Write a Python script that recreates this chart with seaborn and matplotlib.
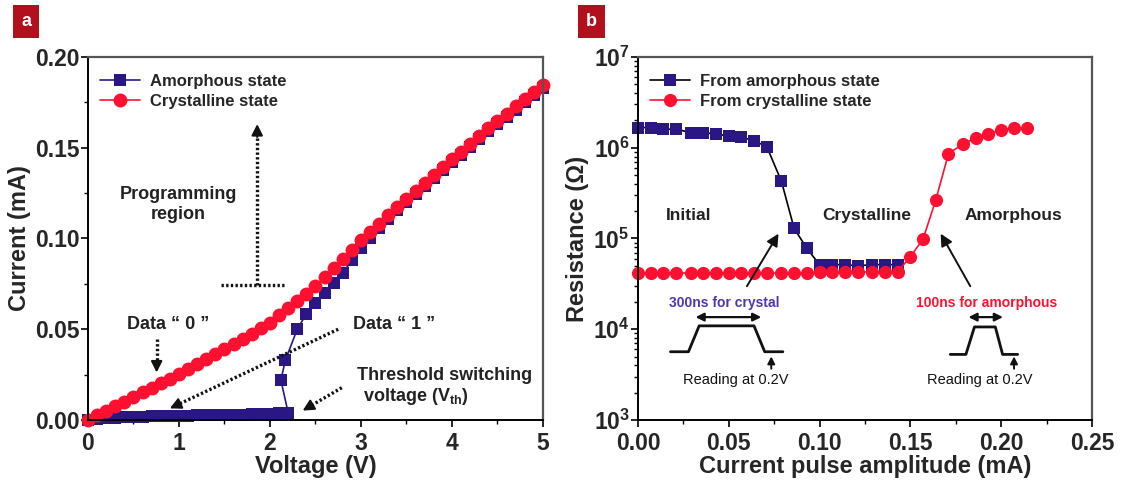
import numpy as np
import pandas as pd
import seaborn as sns
import matplotlib
matplotlib.use('Agg')
import matplotlib.pyplot as plt
from matplotlib.ticker import MultipleLocator, LogLocator, NullFormatter

# panel a: I-V curves
volt_cryst = [0.0, 0.1, 0.2, 0.3, 0.4, 0.5, 0.6, 0.7, 0.8, 0.9,
              1.0, 1.1, 1.2, 1.3, 1.4, 1.5, 1.6, 1.7, 1.8, 1.9,
              2.0, 2.1, 2.2, 2.3, 2.4, 2.5, 2.6, 2.7, 2.8, 2.9,
              3.0, 3.1, 3.2, 3.3, 3.4, 3.5, 3.6, 3.7, 3.8, 3.9,
              4.0, 4.1, 4.2, 4.3, 4.4, 4.5, 4.6, 4.7, 4.8, 4.9, 5.0]
curr_cryst = [0.0, 0.0025, 0.005, 0.0075, 0.0100, 0.0127, 0.0152, 0.0177, 0.0202, 0.0228,
              0.0255, 0.0281, 0.0307, 0.0334, 0.0361, 0.0390, 0.0418, 0.0447, 0.0476, 0.0506,
              0.0536, 0.0576, 0.0616, 0.0656, 0.0696, 0.0736, 0.0787, 0.0838, 0.0888, 0.0939,
              0.0990, 0.1036, 0.1082, 0.1128, 0.1174, 0.1220, 0.1263, 0.1306, 0.1350, 0.1393,
              0.1436, 0.1478, 0.1520, 0.1563, 0.1606, 0.1648, 0.1688, 0.1728, 0.1767, 0.1806, 0.1845]

volt_amor = [0.0, 0.1, 0.2, 0.3, 0.4, 0.5, 0.6, 0.7, 0.8, 0.9,
             1.0, 1.1, 1.2, 1.3, 1.4, 1.5, 1.6, 1.7, 1.8, 1.9,
             2.0, 2.1, 2.2, 2.12, 2.17, 2.3, 2.4, 2.5, 2.6, 2.7, 2.8, 2.9,
             3.0, 3.1, 3.2, 3.3, 3.4, 3.5, 3.6, 3.7, 3.8, 3.9,
             4.0, 4.1, 4.2, 4.3, 4.4, 4.5, 4.6, 4.7, 4.8, 4.9, 5.0]
curr_amor = [0.0, 0.0006, 0.0010, 0.0013, 0.0015, 0.0017, 0.0019, 0.0020, 0.0021, 0.0022,
             0.0023, 0.0024, 0.0025, 0.0026, 0.0027, 0.0028, 0.0029, 0.0030, 0.0031, 0.0033,
             0.0035, 0.0037, 0.0040, 0.022, 0.033, 0.050, 0.0585, 0.0645, 0.070, 0.0755, 0.081, 0.088,
             0.0945, 0.1005, 0.106, 0.111, 0.1155, 0.120, 0.1245, 0.129, 0.1335, 0.1378,
             0.142, 0.1462, 0.1505, 0.1548, 0.159, 0.163, 0.167, 0.171, 0.175, 0.179, 0.1827]

# panel b: resistance vs pulse amplitude
pulse_amor = [0.0, 0.007, 0.014, 0.021, 0.029, 0.036, 0.043, 0.050, 0.057, 0.064,
              0.071, 0.079, 0.086, 0.093, 0.100, 0.107, 0.114, 0.121, 0.129, 0.136, 0.143]
res_amor = [1.67e6, 1.67e6, 1.60e6, 1.60e6, 1.47e6, 1.47e6, 1.41e6, 1.35e6, 1.30e6, 1.20e6,
            1.02e6, 4.27e5, 1.29e5, 7.8e4, 5.15e4, 5.15e4, 5.15e4, 5.0e4, 5.15e4, 5.15e4, 5.15e4]

pulse_cryst = [0.0, 0.007, 0.014, 0.021, 0.029, 0.036, 0.043, 0.050, 0.057, 0.064,
               0.071, 0.079, 0.086, 0.093, 0.100, 0.107, 0.114, 0.121, 0.129, 0.136, 0.143,
               0.150, 0.157, 0.164, 0.171, 0.179, 0.186, 0.193, 0.200, 0.207, 0.214]
res_cryst = [4.17e4, 4.17e4, 4.17e4, 4.17e4, 4.17e4, 4.17e4, 4.17e4, 4.17e4, 4.17e4, 4.17e4,
             4.17e4, 4.17e4, 4.17e4, 4.17e4, 4.25e4, 4.25e4, 4.25e4, 4.25e4, 4.3e4, 4.3e4, 4.3e4,
             6.3e4, 9.85e4, 2.65e5, 8.6e5, 1.1e6, 1.28e6, 1.41e6, 1.57e6, 1.64e6, 1.67e6]

NAVY = '#2b1784'
RED = '#ff1030'
INK = '#111111'

sns.set_theme(style='ticks')
plt.rcParams['font.family'] = ['Liberation Sans', 'DejaVu Sans']
plt.rcParams['mathtext.fontset'] = 'custom'
plt.rcParams['mathtext.rm'] = 'Liberation Sans'
plt.rcParams['mathtext.bf'] = 'Liberation Sans:bold'
plt.rcParams['mathtext.it'] = 'Liberation Sans:italic'


def style_axes(ax):
    for s in ['left', 'bottom']:
        ax.spines[s].set_color('black')
        ax.spines[s].set_linewidth(1.4)
    for s in ['top', 'right']:
        ax.spines[s].set_visible(True)
        ax.spines[s].set_color('#555555')
        ax.spines[s].set_linewidth(1.6)
    ax.tick_params(which='major', direction='out', length=5, width=1.2,
                   labelsize=16.5, pad=1, color='black')
    ax.tick_params(axis='x', which='major', pad=3.5)
    ax.tick_params(which='minor', direction='out', length=3, width=1.0, color='black')
    for lab in ax.get_xticklabels() + ax.get_yticklabels():
        lab.set_fontweight('bold')
    for ln in ax.get_lines():
        ln.set_clip_on(False)


def dotted_arrow(ax, start, end, frac=0.88):
    # dotted shaft, solid head
    mid = (start[0] + frac * (end[0] - start[0]), start[1] + frac * (end[1] - start[1]))
    ax.plot([start[0], mid[0]], [start[1], mid[1]], color=INK, lw=2.4,
            linestyle=(0, (0.7, 0.7)), solid_capstyle='butt')
    ax.annotate('', xy=end, xytext=mid,
                arrowprops=dict(arrowstyle='-|>,head_length=0.55,head_width=0.28',
                                lw=1.5, color=INK, shrinkA=0, shrinkB=0))


def panel_a(ax):
    df_c = pd.DataFrame({'V': volt_cryst, 'I': curr_cryst})
    df_a = pd.DataFrame({'V': volt_amor, 'I': curr_amor})
    sns.lineplot(data=df_a, x='V', y='I', ax=ax, sort=False, estimator=None,
                 color=NAVY, lw=1.2, marker='s', markersize=8.5, markeredgewidth=0,
                 markerfacecolor=NAVY, label='Amorphous state')
    sns.lineplot(data=df_c, x='V', y='I', ax=ax, sort=False, estimator=None,
                 color=RED, lw=1.2, marker='o', markersize=10, markeredgewidth=0,
                 markerfacecolor=RED, label='Crystalline state')
    ax.set_xlim(0, 5)
    ax.set_ylim(0, 0.2)
    ax.xaxis.set_major_locator(MultipleLocator(1))
    ax.xaxis.set_minor_locator(MultipleLocator(0.5))
    ax.yaxis.set_major_locator(MultipleLocator(0.05))
    ax.yaxis.set_minor_locator(MultipleLocator(0.025))
    ax.yaxis.set_major_formatter(matplotlib.ticker.FormatStrFormatter('%.2f'))
    ax.set_xlabel('Voltage (V)', fontsize=17, fontweight='bold', labelpad=0)
    ax.set_ylabel('Current (mA)', fontsize=17, fontweight='bold', labelpad=3)
    ax.legend(loc='upper left', frameon=False, prop={'weight': 'bold', 'size': 12},
              handlelength=2.4, borderaxespad=0.3, labelspacing=0.3, handletextpad=0.6,
              bbox_to_anchor=(0.0, 0.985))
    style_axes(ax)

    tkw = dict(fontsize=13, fontweight='bold', color='#222222')
    ax.text(0.99, 0.1245, 'Programming', ha='center', va='center', **tkw)
    ax.text(0.99, 0.113, 'region', ha='center', va='center', **tkw)
    dotted_arrow(ax, (1.86, 0.0745), (1.86, 0.163), frac=0.92)
    ax.plot([1.46, 2.18], [0.0745, 0.0745], color=INK, lw=2.4,
            linestyle=(0, (0.7, 0.7)))
    ax.text(0.885, 0.0527, 'Data \u201c 0 \u201d', ha='center', va='center', **tkw)
    dotted_arrow(ax, (0.755, 0.0445), (0.755, 0.0262), frac=0.7)
    ax.text(3.36, 0.0527, 'Data \u201c 1 \u201d', ha='center', va='center', **tkw)
    dotted_arrow(ax, (2.75, 0.050), (0.90, 0.0064), frac=0.94)
    ax.text(2.96, 0.0245, 'Threshold switching', ha='left', va='center', **tkw)
    ax.text(3.02, 0.0127, 'voltage (V$_{\\mathbf{th}}$)', ha='left', va='center', **tkw)
    dotted_arrow(ax, (2.79, 0.0178), (2.36, 0.0052), frac=0.75)


def panel_b(ax):
    df_a = pd.DataFrame({'I': pulse_amor, 'R': res_amor})
    df_c = pd.DataFrame({'I': pulse_cryst, 'R': res_cryst})
    sns.lineplot(data=df_a, x='I', y='R', ax=ax, sort=False, estimator=None,
                 color='black', lw=1.2, marker='s', markersize=8, markeredgewidth=0,
                 markerfacecolor=NAVY, label='From amorphous state')
    sns.lineplot(data=df_c, x='I', y='R', ax=ax, sort=False, estimator=None,
                 color=RED, lw=1.2, marker='o', markersize=9.5, markeredgewidth=0,
                 markerfacecolor=RED, label='From crystalline state')
    ax.set_yscale('log')
    ax.set_xlim(0, 0.25)
    ax.set_ylim(1e3, 1e7)
    ax.xaxis.set_major_locator(MultipleLocator(0.05))
    ax.xaxis.set_minor_locator(MultipleLocator(0.025))
    ax.xaxis.set_major_formatter(matplotlib.ticker.FormatStrFormatter('%.2f'))
    ax.yaxis.set_major_locator(LogLocator(base=10, numticks=10))
    ax.yaxis.set_minor_locator(LogLocator(base=10, subs=np.arange(2, 10), numticks=10))
    ax.yaxis.set_minor_formatter(NullFormatter())
    ax.set_xlabel('Current pulse amplitude (mA)', fontsize=17, fontweight='bold', labelpad=0)
    ax.set_ylabel('Resistance (\u03a9)', fontsize=17, fontweight='bold', labelpad=3)
    ax.legend(loc='upper left', frameon=False, prop={'weight': 'bold', 'size': 12},
              handlelength=2.4, borderaxespad=0.3, labelspacing=0.3, handletextpad=0.6,
              bbox_to_anchor=(0.0, 0.985))
    style_axes(ax)

    tkw = dict(fontsize=12.5, fontweight='bold', color='#222222', ha='center', va='center')
    ax.text(0.028, 1.77e5, 'Initial', **tkw)
    ax.text(0.126, 1.77e5, 'Crystalline', **tkw)
    ax.text(0.207, 1.77e5, 'Amorphous', **tkw)
    akw = dict(arrowstyle='-|>,head_length=0.6,head_width=0.3', lw=1.4, color=INK,
               shrinkA=0, shrinkB=0)
    ax.annotate('', xy=(0.0774, 1.13e5), xytext=(0.060, 2.98e4), arrowprops=akw)
    ax.annotate('', xy=(0.1667, 1.13e5), xytext=(0.183, 2.98e4), arrowprops=akw)
    ax.text(0.0476, 1.96e4, '300ns for crystal', fontsize=10, fontweight='bold',
            color='#4a38b0', ha='center', va='center')
    ax.text(0.192, 1.96e4, '100ns for amorphous', fontsize=10, fontweight='bold',
            color=RED, ha='center', va='center')
    dkw = dict(arrowstyle='<|-|>,head_length=0.4,head_width=0.2', lw=1.6, color=INK,
               shrinkA=0, shrinkB=0)
    ax.annotate('', xy=(0.0679, 1.36e4), xytext=(0.0317, 1.36e4), arrowprops=dkw)
    ax.annotate('', xy=(0.201, 1.36e4), xytext=(0.182, 1.36e4), arrowprops=dkw)
    ax.plot([0.0179, 0.0278, 0.0337, 0.0639, 0.0698, 0.0798],
            [5.65e3, 5.65e3, 1.09e4, 1.09e4, 5.65e3, 5.65e3], color=INK, lw=2)
    ax.plot([0.172, 0.1806, 0.1853, 0.1968, 0.2008, 0.2091],
            [5.28e3, 5.28e3, 1.06e4, 1.06e4, 5.28e3, 5.28e3], color=INK, lw=2)
    ukw = dict(arrowstyle='-|>,head_length=0.35,head_width=0.18', lw=1.4, color=INK,
               shrinkA=0, shrinkB=0)
    ax.annotate('', xy=(0.0734, 10 ** 3.70), xytext=(0.0734, 10 ** 3.565), arrowprops=ukw)
    ax.annotate('', xy=(0.2071, 10 ** 3.70), xytext=(0.2071, 10 ** 3.565), arrowprops=ukw)
    ax.text(0.054, 2.77e3, 'Reading at 0.2V', fontsize=10.5, color=INK,
            ha='center', va='center')
    ax.text(0.188, 2.77e3, 'Reading at 0.2V', fontsize=10.5, color=INK,
            ha='center', va='center')


fig = plt.figure(figsize=(11.22, 4.86), dpi=100)
ax1 = fig.add_axes([0.0784, 0.1358, 0.4055, 0.747])
ax2 = fig.add_axes([0.5686, 0.1358, 0.4046, 0.747])
panel_a(ax1)
panel_b(ax2)

box = dict(boxstyle='square,pad=0.45', fc='#b3101e', ec='none')
fig.text(0.0235, 0.955, 'a', color='white', fontsize=13, fontweight='bold',
         ha='center', va='center', bbox=box)
fig.text(0.527, 0.955, 'b', color='white', fontsize=13, fontweight='bold',
         ha='center', va='center', bbox=box)

fig.savefig('out.png', dpi=100, facecolor='white')
